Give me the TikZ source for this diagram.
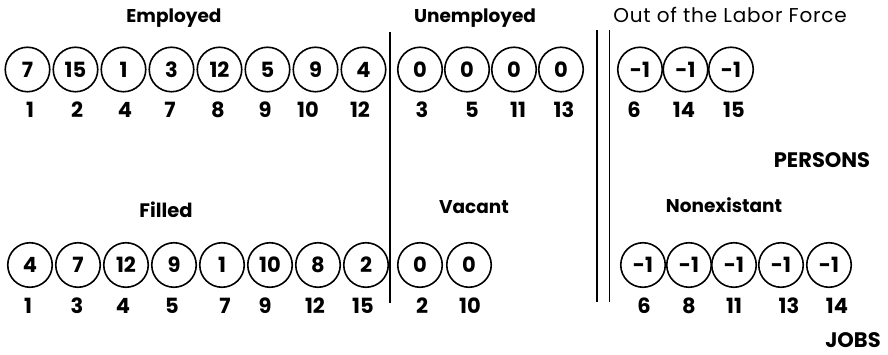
\documentclass[tikz,border=0pt]{standalone}
\usepackage{fontspec}
\setmainfont{Poppins}
\begin{document}
\begin{tikzpicture}[x=1pt,y=-1pt,
  cell/.style={draw,circle,line width=1.6pt,minimum size=44.5pt,inner sep=0pt,font=\fontsize{21}{22}\selectfont\bfseries},
  idx/.style={inner sep=0pt,font=\fontsize{21}{22}\selectfont\bfseries},
  ttl/.style={inner sep=0pt,font=\fontsize{18.5}{20}\selectfont\bfseries},
  big/.style={inner sep=0pt,font=\fontsize{21}{22}\selectfont\bfseries},
  divider/.style={line width=1.7pt}]
\useasboundingbox (0,0) rectangle (888,355);
% titles
\node[ttl] (tEmp) at (174,18) {Employed};
\node[ttl] (tUne) at (475,18) {Unemployed};
\node[inner sep=0pt,font=\fontsize{20}{22}\selectfont\addfontfeature{LetterSpace=4}] (tOut) at (730,15) {Out of the Labor Force};
\node[big] (tPer) at (822,160) {PERSONS};
\node[ttl,font=\fontsize{19.5}{20}\selectfont\bfseries] (tFil) at (166,210) {Filled};
\node[ttl] (tVac) at (474,207) {Vacant};
\node[ttl] (tNon) at (724,205) {Nonexistant};
\node[big] (tJob) at (853,340) {JOBS};
% top row: employed
\foreach \v/\l/\i/\lx in {7/1/1/30,15/2/2/77,1/4/3/125,3/7/4/170,12/8/5/218,5/9/6/265,9/10/7/308,4/12/8/360}{
  \node[cell] (e\i) at ({27.5+48*(\i-1)},69.5) {\v};
  \node[idx] (el\i) at (\lx,110) {\l};
}
\foreach \l/\i/\cx/\lx in {3/1/420/422,5/2/467/472,11/3/514/518,13/4/561/564}{
  \node[cell] (u\i) at (\cx,69.5) {0};
  \node[idx] (ul\i) at (\lx,110) {\l};
}
\foreach \l/\i/\cx/\lx in {6/1/640/634,14/2/685.5/684,15/3/731/734}{
  \node[cell] (o\i) at (\cx,69.5) {-1};
  \node[idx] (ol\i) at (\lx,110) {\l};
}
% bottom row
\foreach \v/\l/\i/\lx in {4/1/1/28,7/3/2/77,12/4/3/123,9/5/4/172,1/7/5/225,10/9/6/265,8/12/7/315,2/15/8/363}{
  \node[cell] (f\i) at ({30+48*(\i-1)},265) {\v};
  \node[idx] (fl\i) at (\lx,306) {\l};
}
\foreach \l/\i/\cx/\lx in {2/1/420/422,10/2/469/470}{
  \node[cell] (v\i) at (\cx,265) {0};
  \node[idx] (vl\i) at (\lx,306) {\l};
}
\foreach \l/\i/\cx/\lx in {6/1/643/644,8/2/689/689,11/3/734/734,13/4/781/789,14/5/829/837}{
  \node[cell] (n\i) at (\cx,265) {-1};
  \node[idx] (nl\i) at (\lx,306) {\l};
}
% dividers
\coordinate (s1) at (390,32); \coordinate (s2) at (390,303);
\coordinate (d1) at (597,30); \coordinate (d2) at (597,302);
\coordinate (d3) at (609.5,30); \coordinate (d4) at (609.5,302);
\draw[divider] (s1) -- (s2);
\draw[divider,line width=2.2pt] (d1) -- (d2);
\draw[divider,line width=1.6pt] (d3) -- (d4);
\end{tikzpicture}
\end{document}
